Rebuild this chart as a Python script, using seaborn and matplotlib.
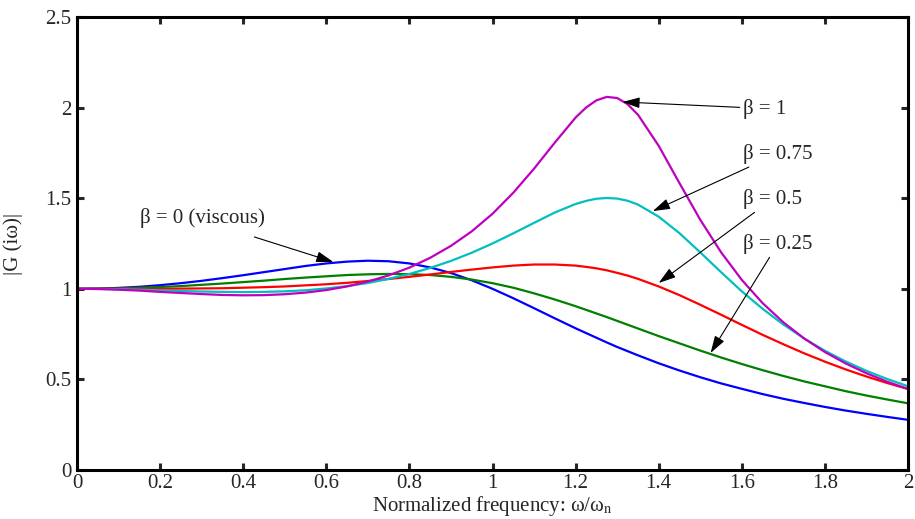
import numpy as np
import matplotlib
matplotlib.use("Agg")
import matplotlib.pyplot as plt
import seaborn as sns

# ── Data ──────────────────────────────────────────────────────────────────────
freq = [0.0, 0.05, 0.1, 0.15, 0.2, 0.25, 0.3, 0.35, 0.4, 0.45, 0.5, 0.55, 0.6,
        0.65, 0.7, 0.75, 0.8, 0.85, 0.9, 0.95, 1.0, 1.05, 1.1, 1.15, 1.2, 1.225,
        1.25, 1.275, 1.3, 1.325, 1.35, 1.4, 1.45, 1.5, 1.55, 1.6, 1.65, 1.7,
        1.75, 1.8, 1.85, 1.9, 1.95, 2.0]

g_beta0 = [1.0, 1.001, 1.005, 1.011, 1.020, 1.031, 1.044, 1.059, 1.075, 1.092,
           1.109, 1.126, 1.140, 1.150, 1.155, 1.152, 1.140, 1.118, 1.087, 1.047,
           1.000, 0.948, 0.893, 0.837, 0.782, 0.756, 0.730, 0.704, 0.679, 0.656,
           0.633, 0.589, 0.549, 0.512, 0.478, 0.448, 0.419, 0.393, 0.370, 0.348,
           0.328, 0.310, 0.293, 0.277]

g_beta025 = [1.0, 1.001, 1.002, 1.006, 1.010, 1.015, 1.022, 1.029, 1.037, 1.045,
             1.054, 1.062, 1.069, 1.076, 1.080, 1.082, 1.081, 1.076, 1.066, 1.051,
             1.031, 1.006, 0.975, 0.941, 0.904, 0.884, 0.864, 0.844, 0.823, 0.802,
             0.781, 0.739, 0.699, 0.659, 0.621, 0.585, 0.551, 0.519, 0.489, 0.462,
             0.435, 0.411, 0.389, 0.368]

g_beta05 = [1.0, 1.000, 1.000, 1.000, 1.000, 1.001, 1.002, 1.003, 1.006, 1.009,
            1.013, 1.019, 1.025, 1.033, 1.043, 1.054, 1.066, 1.079, 1.093, 1.106,
            1.118, 1.128, 1.134, 1.134, 1.128, 1.121, 1.113, 1.102, 1.088, 1.073,
            1.055, 1.013, 0.965, 0.912, 0.857, 0.801, 0.746, 0.694, 0.644, 0.598,
            0.555, 0.516, 0.480, 0.447]

g_beta075 = [1.0, 0.999, 0.998, 0.995, 0.992, 0.988, 0.985, 0.983, 0.982, 0.983,
             0.986, 0.992, 1.002, 1.015, 1.032, 1.055, 1.082, 1.115, 1.154, 1.199,
             1.250, 1.306, 1.364, 1.421, 1.468, 1.485, 1.497, 1.501, 1.498, 1.486,
             1.465, 1.398, 1.307, 1.201, 1.092, 0.986, 0.890, 0.803, 0.726, 0.658,
             0.599, 0.547, 0.502, 0.462]

g_beta1 = [1.0, 0.999, 0.995, 0.990, 0.983, 0.977, 0.971, 0.966, 0.964, 0.965,
           0.970, 0.979, 0.993, 1.013, 1.040, 1.074, 1.117, 1.171, 1.237, 1.317,
           1.414, 1.530, 1.663, 1.807, 1.945, 2.000, 2.040, 2.059, 2.053, 2.019,
           1.961, 1.789, 1.583, 1.381, 1.202, 1.049, 0.921, 0.815, 0.726, 0.651,
           0.588, 0.534, 0.487, 0.447]

series = [g_beta0, g_beta025, g_beta05, g_beta075, g_beta1]
colours = ["#0000ff", "#008000", "#ff0000", "#00bfbf", "#bf00bf"]

x_ticks = [0, 0.2, 0.4, 0.6, 0.8, 1, 1.2, 1.4, 1.6, 1.8, 2]
x_tick_labels = ["0", "0.2", "0.4", "0.6", "0.8", "1", "1.2", "1.4", "1.6", "1.8", "2"]
y_ticks = [0, 0.5, 1, 1.5, 2, 2.5]
y_tick_labels = ["0", "0.5", "1", "1.5", "2", "2.5"]

# ── Style ─────────────────────────────────────────────────────────────────────
sns.set_theme(style="white")
plt.rcParams["font.family"] = ["Liberation Serif", "DejaVu Serif"]
plt.rcParams["mathtext.fontset"] = "stix"

fig = plt.figure(figsize=(9.15, 5.19), dpi=100)
ax = fig.add_axes([77 / 915, 1 - 470 / 519, (908 - 77) / 915, (470 - 17) / 519])

for ys, col in zip(series, colours):
    sns.lineplot(x=freq, y=ys, color=col, linewidth=1.6, ax=ax, legend=False)

ax.set_xlim(0, 2)
ax.set_ylim(0, 2.5)
ax.set_xticks(x_ticks)
ax.set_xticklabels(x_tick_labels)
ax.set_yticks(y_ticks)
ax.set_yticklabels(y_tick_labels)
ax.tick_params(direction="in", length=5, width=2.2, labelsize=15,
               top=True, right=True, bottom=True, left=True)
ax.tick_params(axis="x", pad=3)
ax.tick_params(axis="y", pad=4)
for sp in ax.spines.values():
    sp.set_linewidth(2.2)
    sp.set_color("black")

ax.set_xlabel(r"Normalized frequency: ω/ω$_\mathrm{n}$", fontsize=15)
ax.xaxis.set_label_coords(0.5, -0.052)
ax.set_ylabel("|G (iω)|", fontsize=15)
ax.yaxis.set_label_coords(-0.065, 0.5)

# ── Annotations ───────────────────────────────────────────────────────────────
arrow = dict(arrowstyle="-|>,head_length=0.7,head_width=0.22", color="black",
             lw=0.8, mutation_scale=15, shrinkA=0, shrinkB=0)
ax.annotate("β = 1", xy=(1.313, 2.031), xytext=(1.603, 1.995),
            fontsize=15, va="center", ha="left", arrowprops=arrow)
ax.annotate("β = 0.75", xy=(1.386, 1.429), xytext=(1.603, 1.745),
            fontsize=15, va="center", ha="left", arrowprops=arrow)
ax.annotate("β = 0.5", xy=(1.400, 1.032), xytext=(1.603, 1.495),
            fontsize=15, va="center", ha="left", arrowprops=arrow)
ax.annotate("β = 0.25", xy=(1.525, 0.646), xytext=(1.603, 1.247),
            fontsize=15, va="center", ha="left", arrowprops=arrow)
ax.annotate("", xy=(0.617, 1.148), xytext=(0.427, 1.286), arrowprops=arrow)
ax.text(0.152, 1.391, "β = 0 (viscous)", fontsize=15, va="center", ha="left")

fig.savefig("out.png", dpi=100)
plt.close()
